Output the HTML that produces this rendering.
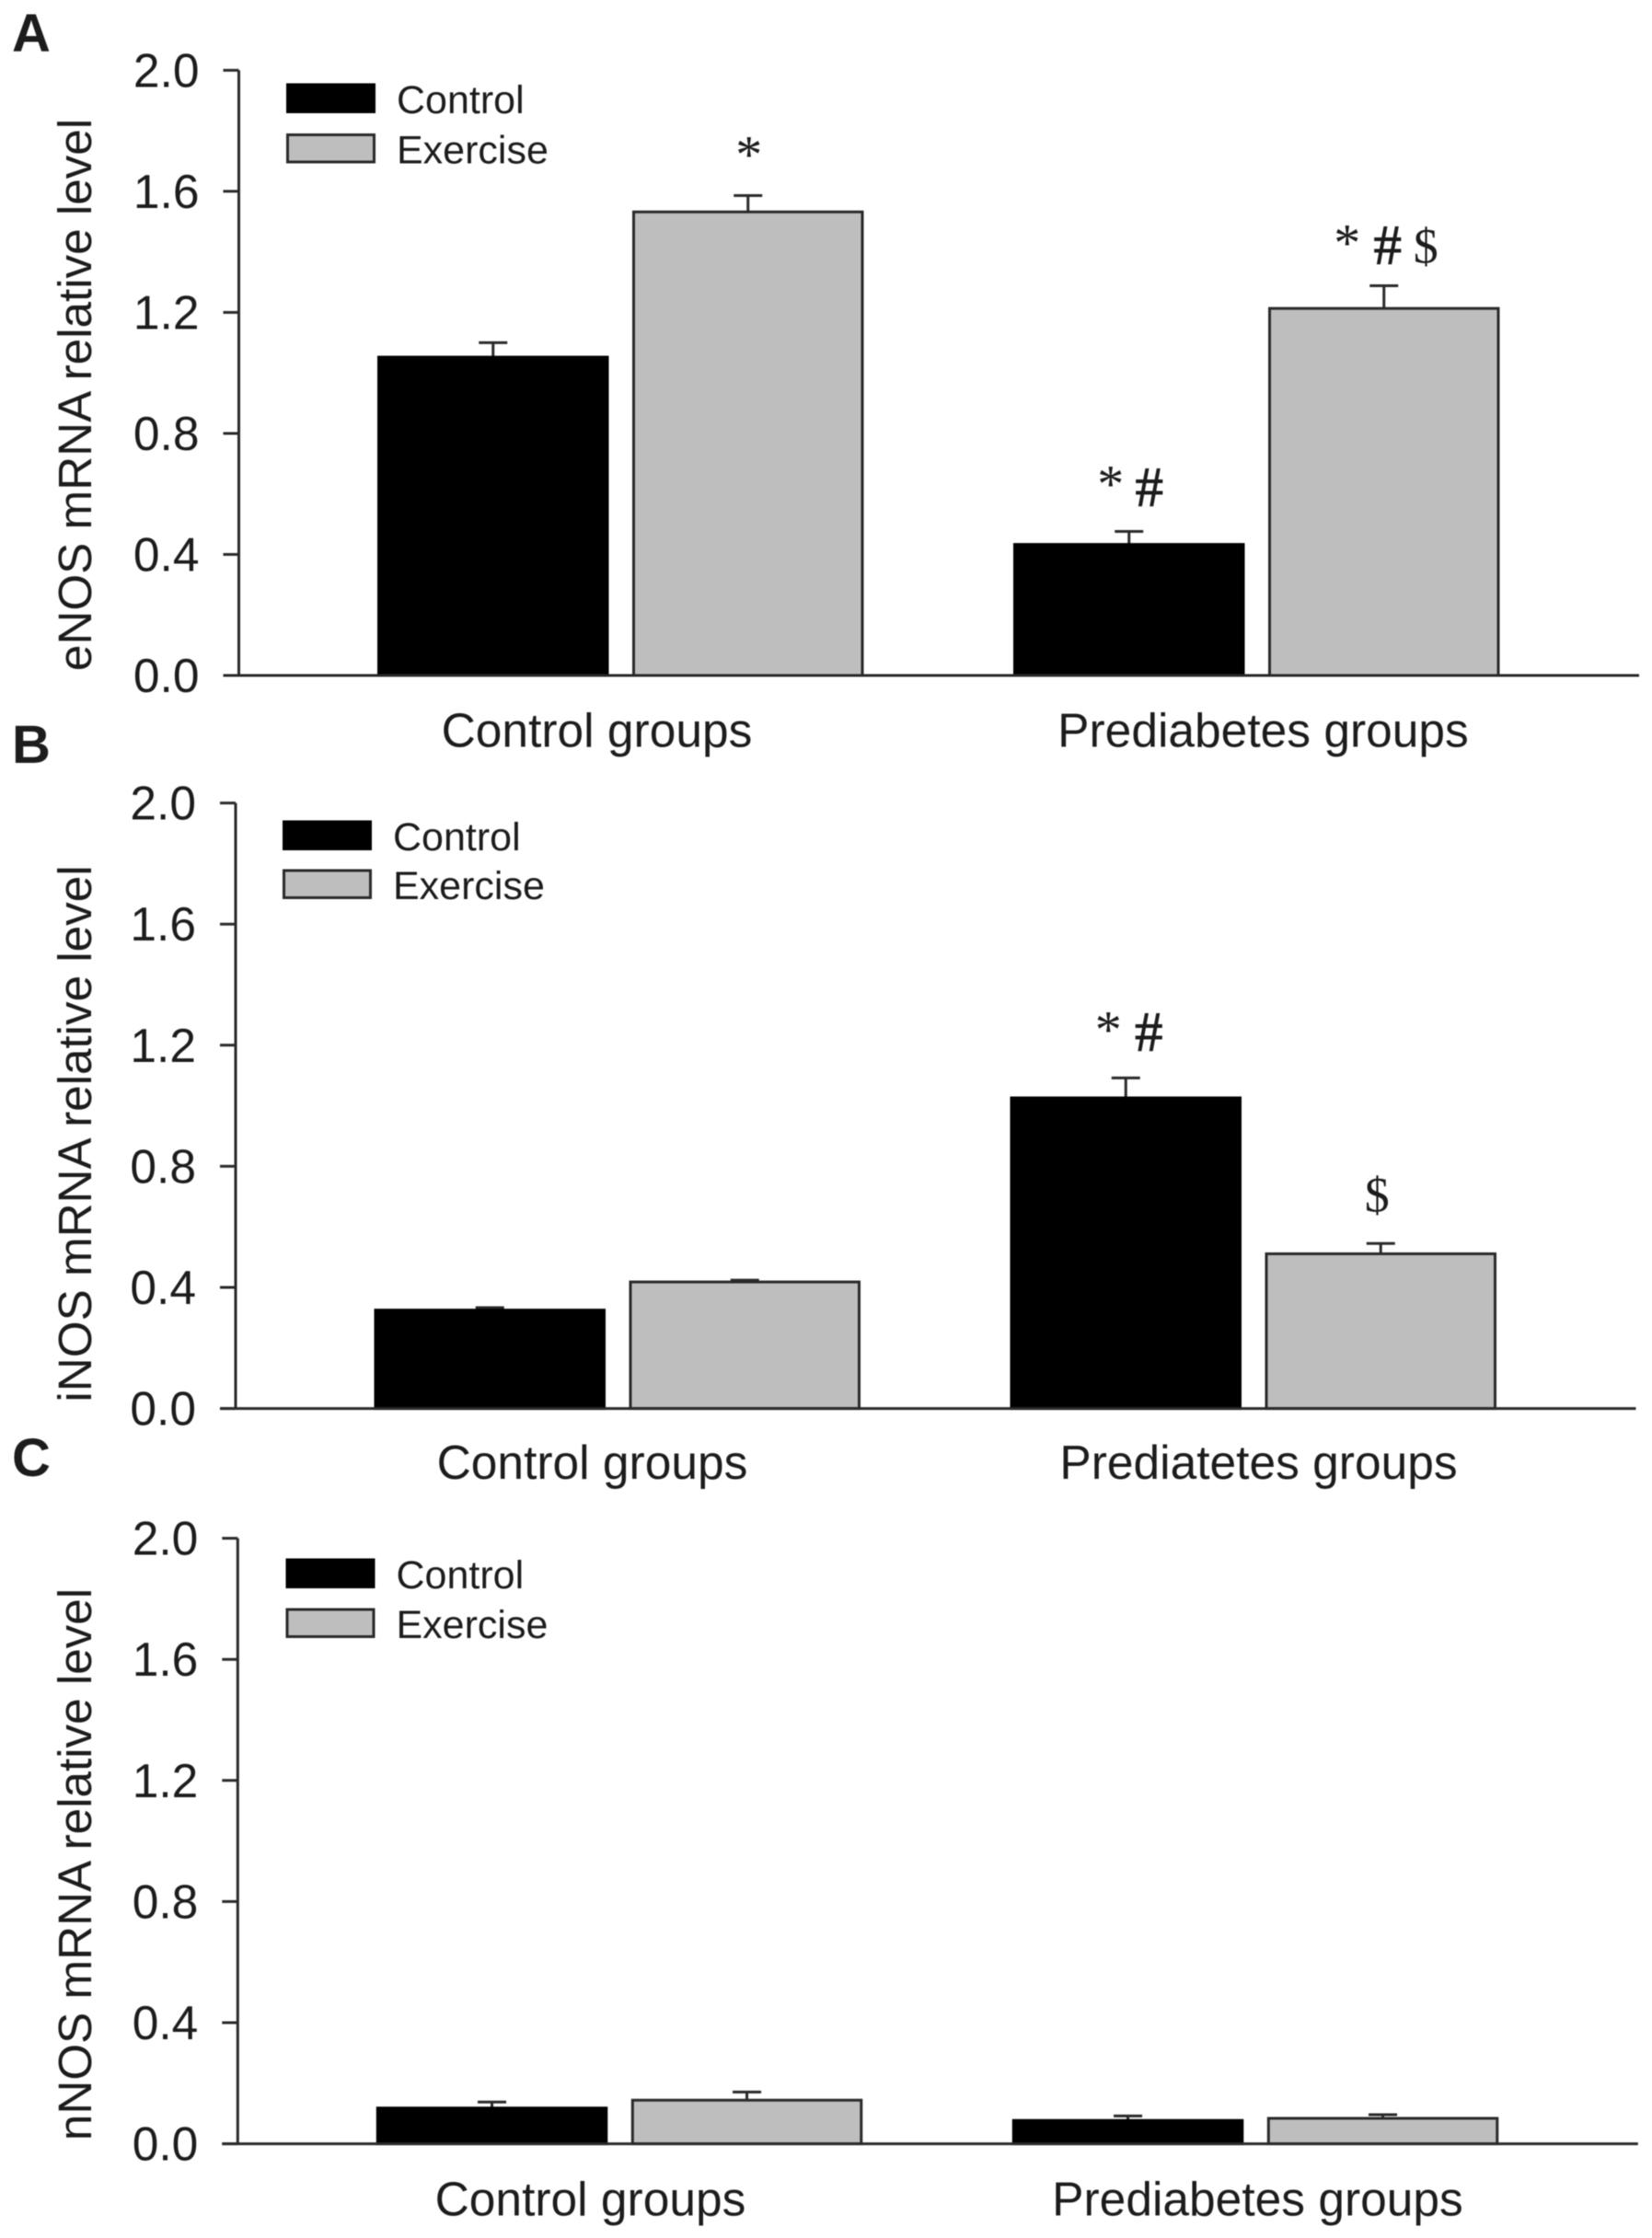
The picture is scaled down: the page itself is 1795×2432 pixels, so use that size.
<!DOCTYPE html>
<html lang="en">
<head>
<meta charset="utf-8">
<title>NOS mRNA relative levels</title>
<style>
  html, body { margin: 0; padding: 0; background: #fff; }
  svg { display: block; filter: blur(0.5px); }
  text { font-family: "Liberation Sans", sans-serif; fill: #1c1c1c; }
  .serif { font-family: "Liberation Serif", serif; }
</style>
</head>
<body>
<svg id="figure" xmlns="http://www.w3.org/2000/svg" width="1795" height="2432" viewBox="0 0 1795 2432"></svg>
<script>
// ---- Chart data ----
const tickValues = [0, 0.4, 0.8, 1.2, 1.6, 2.0];
const tickLabels = ['0.0', '0.4', '0.8', '1.2', '1.6', '2.0'];
const seriesNames = ['Control', 'Exercise'];

const enosCategories = ['Control groups', 'Prediabetes groups'];
const enosControl = [1.052, 0.433];
const enosExercise = [1.532, 1.213];
const enosControlErr = [0.048, 0.043];
const enosExerciseErr = [0.054, 0.075];

const inosCategories = ['Control groups', 'Prediatetes groups'];
const inosControl = [0.325, 1.026];
const inosExercise = [0.418, 0.511];
const inosControlErr = [0.008, 0.066];
const inosExerciseErr = [0.006, 0.034];

const nnosCategories = ['Control groups', 'Prediabetes groups'];
const nnosControl = [0.118, 0.077];
const nnosExercise = [0.144, 0.084];
const nnosControlErr = [0.02, 0.015];
const nnosExerciseErr = [0.027, 0.012];

const svg = document.getElementById('figure');
const NS = 'http://www.w3.org/2000/svg';

function make(tag, name, props, parent) {
  const el = document.createElementNS(NS, tag);
  
  
  for (const k in props) el.setAttribute(k, props[k]);
  (parent || svg).appendChild(el);
  return el;
}
function label(name, str, props, parent) {
  const el = make('text', name, props, parent);
  el.textContent = str;
  return el;
}

function drawPanel(p) {
  const g = make('g', p.id + '-panel', {});
  const y = v => p.bottom - (v / 2) * (p.bottom - p.top);
  const barLeft = (group, series) => p.x0 + 152 + group * 691 + series * 277;
  const barW = 248.5;
  const ink = '#2a2a2a';

  label(p.id + '-panel-letter', p.letter, {
    x: p.letterX, y: p.letterY, 'font-size': 58, 'font-weight': 'bold', fill: '#111'
  }, g);

  // y axis title
  label(p.id + '-y-axis-title', p.title, {
    x: 0, y: 0, 'font-size': 51.2, 'text-anchor': 'middle',
    transform: 'translate(99,' + p.titleY + ') rotate(-90)'
  }, g);

  // bars and error bars
  p.series.forEach((vals, s) => {
    vals.forEach((v, c) => {
      const left = barLeft(c, s);
      const center = left + barW / 2;
      const errTop = y(v + p.errors[s][c]);
      make('line', p.id + '-error-stem-' + s + '-' + c, {
        x1: center, x2: center, y1: y(v), y2: errTop, stroke: ink, 'stroke-width': 3
      }, g);
      make('line', p.id + '-error-cap-' + s + '-' + c, {
        x1: center - 15.5, x2: center + 15.5, y1: errTop, y2: errTop, stroke: ink, 'stroke-width': 3
      }, g);
      make('rect', p.id + '-bar-' + seriesNames[s].toLowerCase() + '-' + c, {
        x: left, y: y(v), width: barW, height: p.bottom - y(v),
        fill: s === 0 ? '#000000' : '#bebebe', stroke: s === 0 ? '#000' : ink, 'stroke-width': 3
      }, g);
    });
  });

  // significance marks, placed above each bar's error cap
  p.marks.forEach(m => {
    const center = barLeft(m.group, m.series) + barW / 2;
    const errTop = y(p.series[m.series][m.group] + p.errors[m.series][m.group]);
    const t = label(p.id + '-significance-mark', m.text, {
      class: 'serif', x: center + m.dx, y: errTop - m.dy,
      'font-size': m.text === '$' ? 54 : (m.text === '#' ? 61 : 58),
      'text-anchor': 'middle', fill: m.text === '$' ? '#444' : '#1c1c1c'
    }, g);
    if (m.text === '#') {
      t.setAttribute('stroke', '#1c1c1c');
      t.setAttribute('stroke-width', '0.9');
    }
  });

  // axes
  make('line', p.id + '-y-axis', {
    x1: p.x0, x2: p.x0, y1: p.top, y2: p.bottom, stroke: ink, 'stroke-width': 3
  }, g);
  make('line', p.id + '-x-axis', {
    x1: p.x0 - 17, x2: p.x0 + 1521.5, y1: p.bottom, y2: p.bottom, stroke: ink, 'stroke-width': 3
  }, g);
  tickValues.forEach((v, i) => {
    make('line', p.id + '-y-tick-' + tickLabels[i], {
      x1: p.x0 - 17, x2: p.x0, y1: y(v), y2: y(v), stroke: ink, 'stroke-width': 3
    }, g);
    label(p.id + '-y-tick-label-' + tickLabels[i], tickLabels[i], {
      x: p.x0 - 43, y: y(v) + 18, 'font-size': 51.5, 'text-anchor': 'end'
    }, g);
  });

  // category labels
  p.categories.forEach((c, i) => {
    label(p.id + '-category-label-' + i, c, {
      x: p.catX[i], y: p.catY, 'font-size': 51.5, 'text-anchor': 'middle'
    }, g);
  });

  // legend
  seriesNames.forEach((n, s) => {
    make('rect', p.id + '-legend-swatch-' + n.toLowerCase(), {
      x: p.legX + 1, y: p.legY[s], width: 94, height: 29.5,
      fill: s === 0 ? '#000000' : '#bebebe', stroke: s === 0 ? '#000' : ink, 'stroke-width': 3
    }, g);
    label(p.id + '-legend-label-' + n.toLowerCase(), n, {
      x: p.legX + 119.5, y: p.legY[s] + 31, 'font-size': 43
    }, g);
  });
}

drawPanel({
  id: 'enos', letter: 'A', letterX: 13, letterY: 56,
  title: 'eNOS mRNA relative level', titleY: 429,
  x0: 259.5, top: 76.4, bottom: 734,
  categories: enosCategories, catX: [648.5, 1372.5], catY: 811.5,
  series: [enosControl, enosExercise], errors: [enosControlErr, enosExerciseErr],
  legX: 311.5, legY: [92, 146.5],
  marks: [
    { group: 0, series: 1, text: '*', dx: 1, dy: 25 },
    { group: 1, series: 0, text: '*', dx: -20, dy: 32 },
    { group: 1, series: 0, text: '#', dx: 22, dy: 28 },
    { group: 1, series: 1, text: '*', dx: -40, dy: 27 },
    { group: 1, series: 1, text: '#', dx: 4, dy: 24 },
    { group: 1, series: 1, text: '$', dx: 45.5, dy: 25 }
  ]
});

drawPanel({
  id: 'inos', letter: 'B', letterX: 13, letterY: 829,
  title: 'iNOS mRNA relative level', titleY: 1232,
  x0: 256, top: 872.6, bottom: 1530.6,
  categories: inosCategories, catX: [643.5, 1367.5], catY: 1607,
  series: [inosControl, inosExercise], errors: [inosControlErr, inosExerciseErr],
  legX: 307.5, legY: [893, 946],
  marks: [
    { group: 1, series: 0, text: '*', dx: -19, dy: 33 },
    { group: 1, series: 0, text: '#', dx: 25, dy: 30 },
    { group: 1, series: 1, text: '$', dx: -4, dy: 35 }
  ]
});

drawPanel({
  id: 'nnos', letter: 'C', letterX: 13, letterY: 1604,
  title: 'nNOS mRNA relative level', titleY: 2026,
  x0: 258.3, top: 1671.6, bottom: 2329.6,
  categories: nnosCategories, catX: [641.5, 1366.5], catY: 2407.5,
  series: [nnosControl, nnosExercise], errors: [nnosControlErr, nnosExerciseErr],
  legX: 311, legY: [1695, 1749],
  marks: []
});
</script>
</body>
</html>
